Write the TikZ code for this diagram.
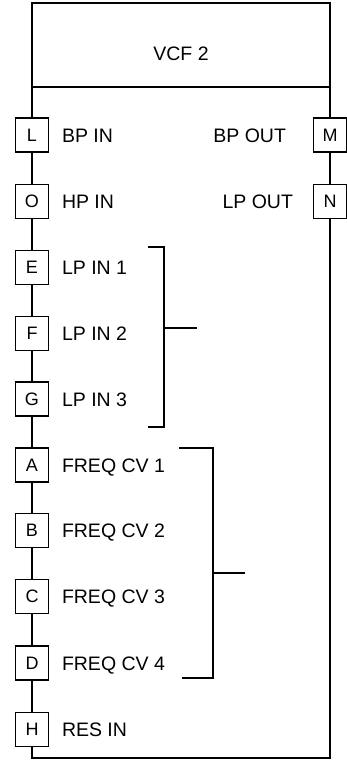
\documentclass[tikz,border=0pt]{standalone}
\usepackage{fontspec}
\setmainfont{Liberation Sans}
\begin{document}
\begin{tikzpicture}[x=1pt,y=-1pt,
  line width=1.5pt,
  every node/.style={outer sep=0pt},
  pin/.style={draw,minimum width=33pt,minimum height=34pt,inner sep=0pt,font=\fontsize{18}{20}\selectfont},
  lbl/.style={anchor=base west,inner sep=0pt,font=\fontsize{19.5}{22}\selectfont},
  rlbl/.style={anchor=base east,inner sep=0pt,font=\fontsize{19.5}{22}\selectfont}]
\useasboundingbox (0,0) rectangle (346,761);
\node[draw,minimum width=298pt,minimum height=84pt,inner sep=0pt,anchor=north west] (title) at (32,3) {};
\node[font=\fontsize{19.5}{22}\selectfont,inner sep=0pt] (tt) at (181,54) {VCF 2};
% left pins
\node[pin] (L) at (32,135) {L};
\node[pin] (O) at (32,201.5) {O};
\node[pin] (E) at (32,267.5) {E};
\node[pin] (F) at (32,333.5) {F};
\node[pin] (G) at (32,399) {G};
\node[pin] (A) at (32,465) {A};
\node[pin] (B) at (32,530.5) {B};
\node[pin] (C) at (32,596.5) {C};
\node[pin] (D) at (32,663) {D};
\node[pin] (H) at (32,729.5) {H};
% right pins
\node[pin] (M) at (330,135) {M};
\node[pin] (N) at (330,201.5) {N};
% labels
\node[lbl] (lL) at (62,142) {BP IN};
\node[lbl] (lO) at (62,208.5) {HP IN};
\node[lbl] (lE) at (62,274.5) {LP IN 1};
\node[lbl] (lF) at (62,340.5) {LP IN 2};
\node[lbl] (lG) at (62,406) {LP IN 3};
\node[lbl] (lA) at (62,472) {FREQ CV 1};
\node[lbl] (lB) at (62,537.5) {FREQ CV 2};
\node[lbl] (lC) at (62,603.5) {FREQ CV 3};
\node[lbl] (lD) at (62,670) {FREQ CV 4};
\node[lbl] (lH) at (62,736.5) {RES IN};
\node[rlbl] (lM) at (286,142) {BP OUT};
\node[rlbl] (lN) at (293,208.5) {LP OUT};
% body outline
\coordinate (br) at (330,758);
\draw (title.south west) -- (L.north);
\draw (L.south) -- (O.north);
\draw (O.south) -- (E.north);
\draw (E.south) -- (F.north);
\draw (F.south) -- (G.north);
\draw (G.south) -- (A.north);
\draw (A.south) -- (B.north);
\draw (B.south) -- (C.north);
\draw (C.south) -- (D.north);
\draw (D.south) -- (H.north);
\draw (H.south) |- (br) -- (N.south);
\draw (N.north) -- (M.south);
\draw (M.north) -- (title.south east);
% brackets
\coordinate (lpt) at (148,247);
\coordinate (lpb) at (148,427);
\coordinate (lpm) at (197,328);
\draw (lpt) -| (164,427) -- (lpb);
\draw (164,328) -- (lpm);
\coordinate (fqt) at (179,448);
\coordinate (fqb) at (182,678);
\coordinate (fqm) at (245,573);
\draw (fqt) -| (213,678) -- (fqb);
\draw (213,573) -- (fqm);
\end{tikzpicture}
\end{document}
